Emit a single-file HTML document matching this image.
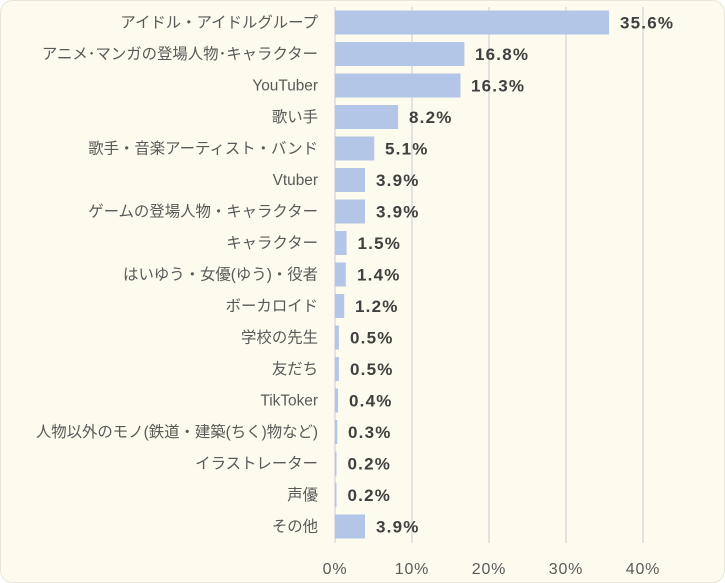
<!DOCTYPE html>
<html><head><meta charset="utf-8"><style>
html,body{margin:0;padding:0;background:#fff}
svg{display:block}
text{font-family:"Liberation Sans","Noto Sans CJK JP",sans-serif}
.l{font-size:15.4px;fill:#595959;text-anchor:end}
.v{font-size:17px;font-weight:bold;fill:#404040;letter-spacing:1.2px}
</style></head><body>
<svg width="725" height="583" xmlns="http://www.w3.org/2000/svg">
<rect x="0.5" y="0.5" width="724" height="582" rx="12" fill="#fdfbed" stroke="#e8e6d8"/>
<g stroke="#d9d9d9" stroke-width="1.5">
<line x1="335" y1="7" x2="335" y2="543"/>
<line x1="412" y1="7" x2="412" y2="543"/>
<line x1="489" y1="7" x2="489" y2="543"/>
<line x1="566" y1="7" x2="566" y2="543"/>
<line x1="643" y1="7" x2="643" y2="543"/>
</g>
<g fill="#b4c6e7">
<rect x="335" y="10.5" width="274.1" height="24"/>
<rect x="335" y="42" width="129.4" height="24"/>
<rect x="335" y="73.5" width="125.5" height="24"/>
<rect x="335" y="105" width="63.1" height="24"/>
<rect x="335" y="136.5" width="39.3" height="24"/>
<rect x="335" y="168" width="30" height="24"/>
<rect x="335" y="199.5" width="30" height="24"/>
<rect x="335" y="231" width="11.6" height="24"/>
<rect x="335" y="262.5" width="10.8" height="24"/>
<rect x="335" y="294" width="9.2" height="24"/>
<rect x="335" y="325.5" width="3.9" height="24"/>
<rect x="335" y="357" width="3.9" height="24"/>
<rect x="335" y="388.5" width="3.1" height="24"/>
<rect x="335" y="420" width="2.3" height="24"/>
<rect x="335" y="451.5" width="1.5" height="24"/>
<rect x="335" y="483" width="1.5" height="24"/>
<rect x="335" y="514.5" width="30" height="24"/>
</g>
<text class="l" x="318" y="27.5">アイドル・アイドルグループ</text>
<text class="l" x="318" y="59">アニメ･マンガの登場人物･キャラクター</text>
<text class="l" x="318" y="90.5">YouTuber</text>
<text class="l" x="318" y="122">歌い手</text>
<text class="l" x="318" y="153.5">歌手・音楽アーティスト・バンド</text>
<text class="l" x="318" y="185">Vtuber</text>
<text class="l" x="318" y="216.5">ゲームの登場人物・キャラクター</text>
<text class="l" x="318" y="248">キャラクター</text>
<text class="l" x="318" y="279.5">はいゆう・女優(ゆう)・役者</text>
<text class="l" x="318" y="311">ボーカロイド</text>
<text class="l" x="318" y="342.5">学校の先生</text>
<text class="l" x="318" y="374">友だち</text>
<text class="l" x="318" y="405.5">TikToker</text>
<text class="l" x="318" y="437">人物以外のモノ(鉄道・建築(ちく)物など)</text>
<text class="l" x="318" y="468.5">イラストレーター</text>
<text class="l" x="318" y="500">声優</text>
<text class="l" x="318" y="531.5">その他</text>
<text class="v" x="620" y="28.5">35.6%</text>
<text class="v" x="475" y="60">16.8%</text>
<text class="v" x="471" y="91.5">16.3%</text>
<text class="v" x="409" y="123">8.2%</text>
<text class="v" x="385" y="154.5">5.1%</text>
<text class="v" x="376" y="186">3.9%</text>
<text class="v" x="376" y="217.5">3.9%</text>
<text class="v" x="357.5" y="249">1.5%</text>
<text class="v" x="357" y="280.5">1.4%</text>
<text class="v" x="355" y="312">1.2%</text>
<text class="v" x="350" y="343.5">0.5%</text>
<text class="v" x="350" y="375">0.5%</text>
<text class="v" x="349" y="406.5">0.4%</text>
<text class="v" x="348" y="438">0.3%</text>
<text class="v" x="347.5" y="469.5">0.2%</text>
<text class="v" x="347.5" y="501">0.2%</text>
<text class="v" x="376" y="532.5">3.9%</text>
<g font-size="16" fill="#595959" text-anchor="middle" letter-spacing="0.8">
<text x="335" y="574">0%</text><text x="412" y="574">10%</text><text x="489" y="574">20%</text><text x="566" y="574">30%</text><text x="643" y="574">40%</text>
</g>
</svg>
</body></html>
